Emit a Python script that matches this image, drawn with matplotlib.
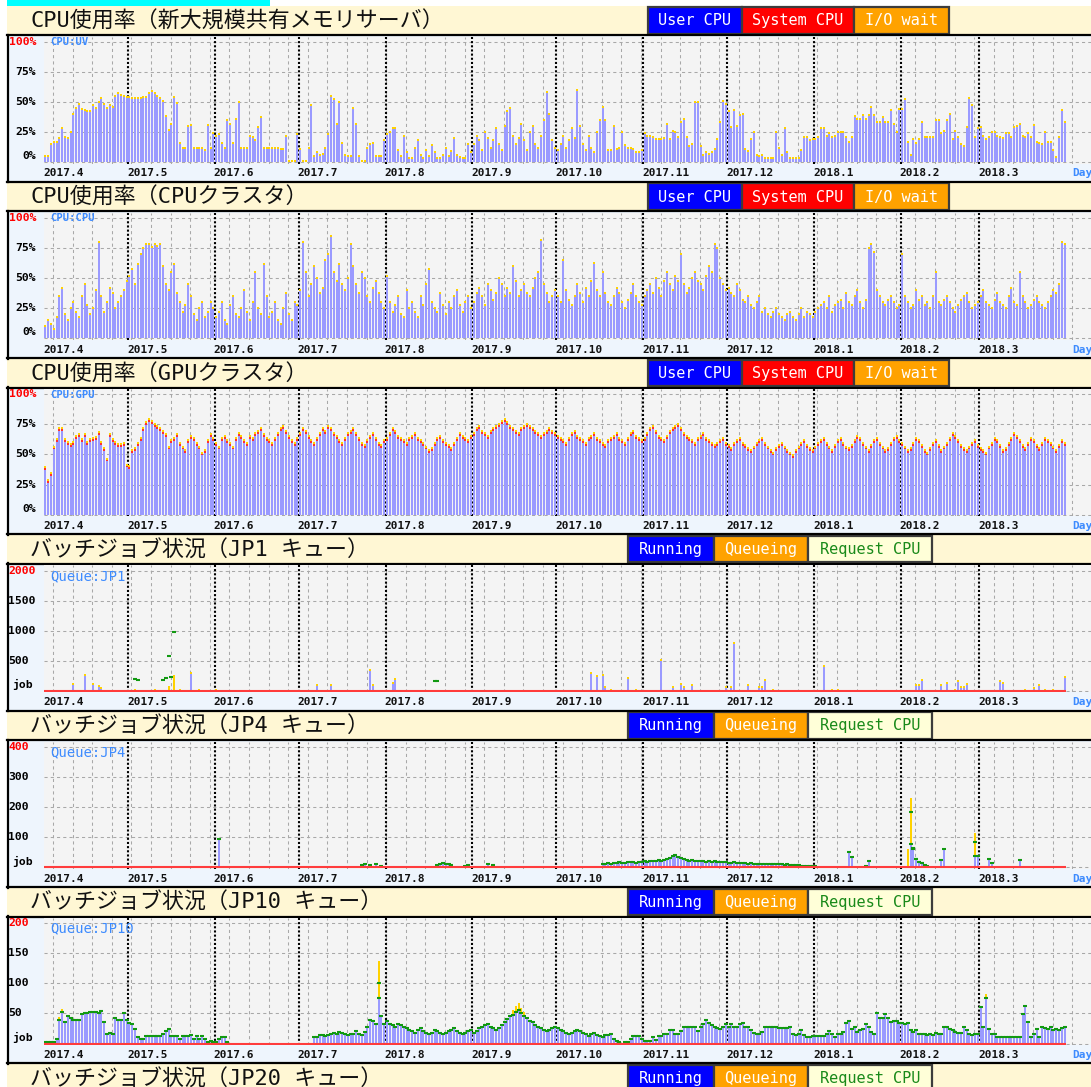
import numpy as np
import matplotlib
matplotlib.use("Agg")
import matplotlib.pyplot as plt
from matplotlib.patches import Rectangle

# ---------------------------------------------------------------- data
month_labels = ["2017.4", "2017.5", "2017.6", "2017.7", "2017.8", "2017.9",
                "2017.10", "2017.11", "2017.12", "2018.1", "2018.2", "2018.3"]
month_days = [30, 31, 30, 31, 31, 30, 31, 30, 31, 31, 28, 31]

# CPU usage, new large shared memory server (% user CPU per day)
uv_user = (
    [5, 5, 15, 17, 17, 20, 28, 21, 20, 25, 40, 45, 48, 44, 43, 42, 42, 47, 45, 50,
     53, 48, 45, 47, 46, 55, 57, 56, 55, 54] +
    [54, 53, 53, 53, 53, 54, 54, 57, 59, 57, 55, 53, 51, 38, 27, 32, 54, 49, 16, 12,
     12, 30, 31, 12, 12, 12, 12, 10, 31, 12, 24] +
    [22, 23, 16, 12, 35, 32, 16, 36, 50, 12, 12, 12, 22, 21, 18, 29, 37, 12, 12, 12,
     12, 12, 12, 11, 11, 22, 1, 1, 1, 23] +
    [11, 1, 1, 12, 47, 5, 8, 6, 7, 12, 23, 55, 52, 32, 50, 16, 6, 5, 5, 45,
     32, 5, 1, 1, 12, 15, 16, 5, 5, 5, 18] +
    [23, 25, 28, 28, 10, 5, 22, 8, 3, 3, 12, 18, 6, 3, 10, 5, 14, 8, 3, 3,
     6, 12, 5, 9, 20, 6, 4, 3, 3, 15, 8] +
    [15, 22, 18, 10, 25, 20, 12, 18, 28, 15, 10, 30, 42, 45, 22, 15, 20, 32, 18, 10,
     25, 30, 15, 12, 22, 35, 58, 40, 18, 12] +
    [10, 15, 22, 12, 18, 28, 20, 60, 30, 15, 10, 22, 12, 8, 25, 35,
     46, 35, 10, 10, 30, 11, 12, 25, 14, 12, 12, 11, 8, 8, 10] +
    [24, 22, 22, 21, 19, 19, 19, 20, 32, 19, 26, 25, 21, 33, 36, 21, 13, 15, 50, 50,
     13, 6, 8, 7, 8, 11, 19, 33, 51, 48] +
    [42, 29, 43, 30, 39, 40, 11, 9, 19, 25, 6, 5, 6, 3, 3, 3, 3, 25, 12, 6,
     28, 8, 3, 3, 3, 3, 10, 21, 21, 18, 19] +
    [19, 21, 28, 28, 22, 24, 21, 22, 25, 25, 25, 21, 17, 21, 38, 36, 36, 39, 36, 39,
     46, 39, 33, 33, 37, 33, 33, 43, 32, 25, 44] +
    [44, 52, 17, 6, 19, 16, 19, 33, 21, 21, 21, 21, 35, 35, 24, 26, 35, 40, 19, 26,
     21, 15, 13, 29, 53, 47, 21, 28] +
    [29, 22, 19, 21, 25, 25, 22, 21, 20, 24, 24, 21, 29, 30, 32, 22, 21, 24, 21, 31,
     17, 16, 15, 25, 17, 17, 10, 4, 21, 43, 33]
)

# CPU usage, CPU cluster
cpu_user = (
    [10, 15, 12, 8, 18, 35, 42, 20, 15, 25, 30, 22, 18, 35, 45, 28, 20, 25, 40, 80,
     35, 22, 30, 42, 38, 25, 30, 35, 40, 48] +
    [52, 58, 45, 62, 70, 75, 78, 78, 76, 78, 77, 78, 60, 45, 40, 55, 62, 38, 30, 22,
     28, 45, 35, 20, 15, 25, 30, 18, 22, 30, 25] +
    [18, 22, 30, 15, 12, 28, 35, 20, 18, 25, 40, 22, 15, 30, 55, 25, 20, 62, 35, 18,
     22, 30, 15, 12, 25, 38, 20, 15, 30, 28] +
    [40, 80, 55, 35, 45, 60, 50, 38, 42, 65, 70, 85, 55, 48, 62, 45, 40, 50, 78, 60,
     45, 38, 55, 50, 35, 30, 42, 48, 38, 30, 25] +
    [52, 30, 22, 28, 35, 20, 18, 40, 25, 30, 22, 18, 35, 28, 45, 58, 30, 25, 22, 38,
     28, 20, 30, 25, 35, 40, 28, 22, 30, 35, 25] +
    [30, 38, 42, 35, 28, 45, 40, 32, 38, 50, 45, 35, 42, 38, 60, 48, 35, 40, 45, 38,
     35, 42, 50, 55, 82, 45, 38, 30, 35, 40] +
    [35, 30, 65, 40, 32, 28, 35, 45, 38, 30, 42, 35, 48, 63, 40, 35, 55, 38, 30, 28,
     35, 42, 38, 30, 25, 32, 38, 45, 35, 30, 28] +
    [35, 40, 45, 38, 50, 42, 35, 48, 55, 45, 40, 52, 48, 70, 45, 38, 42, 50, 55, 48,
     45, 40, 52, 60, 55, 78, 75, 50, 45, 40] +
    [42, 38, 35, 45, 40, 32, 30, 35, 28, 25, 30, 35, 22, 25, 20, 18, 22, 25, 20, 18,
     15, 20, 22, 18, 15, 20, 25, 18, 22, 20, 18] +
    [22, 25, 28, 30, 25, 35, 22, 28, 30, 32, 25, 38, 30, 28, 35, 40, 30, 25, 32, 75,
     78, 72, 40, 35, 30, 28, 32, 35, 30, 25, 28] +
    [70, 35, 30, 25, 28, 40, 32, 35, 28, 30, 25, 35, 55, 30, 28, 32, 35, 30, 25, 22,
     28, 32, 35, 38, 30, 25, 28, 30] +
    [35, 40, 30, 28, 25, 32, 38, 30, 28, 25, 35, 42, 30, 28, 55, 35, 30, 25, 28, 32,
     35, 30, 28, 25, 30, 35, 40, 38, 45, 80, 78]
)

# CPU usage, GPU cluster
gpu_user = (
    [38, 27, 33, 55, 61, 70, 70, 61, 59, 57, 59, 64, 65, 61, 65, 59, 61, 62, 63, 67,
     59, 54, 45, 65, 61, 59, 57, 57, 58, 40] +
    [39, 52, 54, 58, 62, 70, 75, 78, 76, 74, 72, 70, 68, 65, 55, 60, 62, 65, 58, 55,
     52, 60, 64, 62, 58, 55, 50, 52, 60, 65, 62] +
    [58, 55, 62, 64, 60, 58, 55, 62, 66, 64, 60, 58, 64, 62, 66, 68, 70, 65, 62, 60,
     58, 62, 66, 70, 72, 68, 64, 60, 58, 62] +
    [66, 70, 68, 64, 60, 58, 62, 66, 70, 68, 72, 70, 66, 64, 60, 58, 62, 66, 68, 70,
     66, 62, 58, 56, 60, 64, 66, 62, 58, 56, 60] +
    [62, 66, 70, 68, 64, 62, 60, 58, 62, 64, 66, 62, 60, 58, 55, 52, 54, 58, 62, 64,
     60, 58, 56, 54, 58, 62, 66, 64, 62, 60, 64] +
    [66, 70, 72, 68, 66, 64, 68, 70, 72, 74, 76, 78, 75, 72, 70, 68, 66, 70, 72, 74,
     72, 70, 68, 66, 64, 66, 68, 70, 68, 66] +
    [64, 62, 60, 58, 62, 66, 68, 64, 62, 60, 58, 62, 64, 66, 62, 60, 58, 56, 60, 62,
     64, 66, 62, 60, 58, 62, 66, 68, 64, 62, 60] +
    [62, 66, 70, 72, 68, 64, 62, 60, 64, 68, 70, 72, 74, 70, 66, 64, 62, 60, 58, 62,
     64, 66, 62, 60, 58, 56, 58, 60, 62, 58] +
    [56, 54, 58, 60, 62, 58, 56, 54, 52, 55, 58, 60, 62, 58, 55, 52, 50, 54, 56, 58,
     55, 52, 50, 48, 52, 55, 58, 60, 56, 54, 52] +
    [55, 58, 60, 62, 58, 55, 52, 56, 60, 62, 58, 55, 54, 56, 60, 64, 62, 58, 55, 52,
     56, 60, 62, 58, 55, 52, 54, 58, 62, 64, 60] +
    [58, 55, 52, 54, 58, 62, 60, 56, 52, 50, 54, 58, 60, 56, 52, 55, 58, 62, 66, 64,
     60, 56, 54, 52, 55, 58, 60, 56] +
    [54, 52, 50, 55, 58, 62, 60, 56, 52, 54, 58, 62, 66, 64, 60, 56, 54, 58, 62, 60,
     56, 54, 58, 62, 60, 58, 55, 52, 56, 60, 58]
)

# JP1 queue (jobs): sparse days
jp1_run_days = [10, 14, 17, 19, 20, 52, 61, 97, 102, 116, 117, 124, 125, 195, 197,
                199, 200, 208, 220, 224, 227, 228, 231, 243, 245, 246, 251, 255, 256, 257,
                278, 311, 312, 313, 320, 322, 326, 327, 328, 329, 341, 342, 353, 355, 364]
jp1_run_vals = [111, 261, 111, 83, 40, 290, 20, 94, 94, 344, 100, 133, 205, 300, 250,
                267, 72, 211, 511, 72, 111, 72, 100, 72, 72, 789, 100, 72, 72, 189,
                417, 94, 94, 183, 100, 133, 167, 72, 60, 122, 167, 139, 40, 100, 233]
jp1_queue_days = [32, 39, 44, 46, 48, 55, 202, 211, 260, 281, 283, 325, 350, 357, 360]
jp1_queue_vals = [10, 10, 70, 250, 15, 10, 15, 10, 10, 10, 10, 10, 10, 10, 10]
jp1_req_days = [32, 33, 42, 43, 44, 45, 46, 139, 140]
jp1_req_vals = [194, 180, 180, 210, 583, 233, 983, 170, 160]

# JP4 queue
jp4_run_days = [62, 113, 114, 116, 118, 120, 140, 141, 142, 143, 144, 145, 150, 151, 158, 160,
                287, 288, 293, 294, 309, 310, 311, 312, 313, 314, 315, 320, 321, 332, 333,
                337, 338, 348]
jp4_run_vals = [94, 8, 10, 6, 10, 5, 8, 12, 15, 12, 10, 8, 5, 8, 10, 6,
                51, 34, 5, 20, 76, 65, 26, 17, 13, 8, 5, 24, 62, 37, 37,
                26, 15, 24]
jp4_hump_start = 199
jp4_hump = [10, 12, 14, 12, 15, 14, 16, 15, 14, 16, 18, 16, 15, 17, 18, 20, 18, 20, 22, 20,
            24, 22, 25, 28, 30, 38, 42, 35, 30, 28, 25, 22, 24, 22, 20, 22, 20, 18, 20, 18,
            20, 18, 16, 18, 16, 15, 14, 16, 15, 14, 13, 14, 12, 13, 12, 10, 12, 10, 11, 10,
            12, 10, 9, 10, 9, 8, 9, 8, 7, 8, 6, 5, 5, 4, 4, 4, 3]
jp4_queue_days = [308, 309, 332]
jp4_queue_vals = [56, 152, 73]
jp4_req_days = [309, 310, 311, 312, 313, 332]
jp4_req_vals = [185, 62, 26, 17, 13, 85]

# JP10 queue (running jobs per day)
jp10_running = (
    [3, 3, 3, 3, 7, 39, 52, 35, 45, 43, 39, 39, 39, 49, 50, 50, 53, 52, 53, 50,
     54, 35, 16, 17, 16, 43, 39, 39, 50, 39] +
    [34, 33, 24, 11, 7, 7, 12, 12, 12, 12, 12, 12, 15, 21, 24, 12, 12, 12, 7, 12,
     12, 12, 14, 7, 12, 7, 12, 7, 3, 4, 3] +
    [3, 7, 10, 10, 3, 0, 0, 0, 0, 0, 0, 0, 0, 0, 0, 0, 0, 0, 0, 0,
     0, 0, 0, 0, 0, 0, 0, 0, 0, 0] +
    [0, 0, 0, 0, 0, 10, 10, 14, 14, 12, 14, 15, 17, 15, 19, 17, 15, 14, 15, 16,
     21, 15, 14, 19, 27, 39, 38, 33, 76, 46, 33] +
    [38, 33, 30, 28, 33, 30, 28, 25, 22, 20, 18, 22, 25, 20, 18, 15, 18, 22, 20, 17,
     15, 18, 20, 22, 25, 20, 18, 15, 17, 20, 22] +
    [18, 20, 25, 28, 30, 32, 28, 25, 22, 25, 30, 35, 40, 45, 48, 52, 55, 50, 45, 42,
     38, 35, 30, 28, 25, 22, 20, 22, 25, 28] +
    [25, 22, 20, 18, 15, 18, 20, 22, 20, 18, 15, 12, 15, 18, 14, 12,
     11, 14, 14, 15, 8, 4, 2, 0, 3, 3, 7, 12, 12, 12, 7] +
    [4, 4, 4, 11, 5, 12, 12, 15, 15, 23, 23, 15, 15, 21, 28, 27, 27, 27, 27, 21,
     28, 32, 39, 34, 30, 27, 26, 24, 27, 32] +
    [27, 32, 27, 28, 32, 34, 27, 27, 23, 17, 15, 16, 19, 27, 28, 28, 28, 27, 25, 26,
     26, 25, 27, 15, 14, 16, 22, 14, 11, 11, 12] +
    [12, 12, 12, 12, 15, 21, 16, 11, 15, 15, 19, 34, 38, 24, 27, 19, 23, 24, 32, 27,
     19, 15, 50, 42, 43, 49, 43, 35, 37, 37, 34] +
    [34, 32, 34, 22, 19, 22, 15, 15, 15, 14, 15, 14, 17, 15, 15, 27, 27, 24, 23, 19,
     17, 17, 27, 23, 15, 14, 15, 15] +
    [61, 27, 76, 24, 15, 15, 11, 10, 10, 10, 10, 10, 10, 11, 10, 49, 62, 35, 11, 15,
     24, 11, 27, 26, 24, 27, 23, 24, 23, 26, 28]
)
jp10_queue_days = [5, 6, 119, 167, 168, 169, 170, 171, 336]
jp10_queue_vals = [3, 3, 60, 6, 8, 10, 8, 5, 4]
jp10_req_days = [119]
jp10_req_vals = [100]

# ---------------------------------------------------------------- layout
N = 365
assert len(uv_user) == N and len(cpu_user) == N and len(gpu_user) == N and len(jp10_running) == N
assert len(jp4_hump) == 77

W, H = 1091, 1087
PX_DAY = 2.8
X0 = 44
XMAX = (W - X0) / PX_DAY
HDR_H = 28.5
BOX_H = 147.8
PANEL_STEP = 176.3

MONO = "DejaVu Sans Mono"
TITLE_FONT = ["DejaVu Sans Mono", "Noto Sans CJK JP"]
C_HDR = "#fff7d4"
C_BOX = "#eef5fd"
C_PLOT = "#f4f4f4"
C_BAR = "#9a9aff"
C_CAP = "#ffd200"
C_SYS = "#ff3030"
C_REQ = "#119911"
C_TAG = "#3d8bff"

fig = plt.figure(figsize=(W / 100, H / 100), dpi=100)
bg = fig.add_axes([0, 0, 1, 1])
bg.set_xlim(0, W)
bg.set_ylim(H, 0)
bg.axis("off")

# top cyan strip
bg.add_patch(Rectangle((7, 0), 263, 5.5, fc="#00ffff", ec="none"))

days = np.arange(N)
xc = days + 0.5
month_starts = np.concatenate([[0], np.cumsum(month_days)[:-1]])


def sparse(d, v):
    a = np.zeros(N)
    a[np.array(d, dtype=int)] = v
    return a


def header(i, title, kind):
    ht = 6 + PANEL_STEP * i
    bg.add_patch(Rectangle((7, ht), W - 7, HDR_H, fc=C_HDR, ec="none"))
    bg.text(30, ht + HDR_H / 2 + 1, title, family=TITLE_FONT, fontsize=15.8,
            ha="left", va="center", color="#111111")
    if kind == "cpu":
        items = [("User CPU", "#0000ff", "white"), ("System CPU", "#ff0000", "white"),
                 ("I/O wait", "#ffa200", "white")]
        x, widths = 648, [94, 112, 95]
    else:
        items = [("Running", "#0000ff", "white"), ("Queueing", "#ffa200", "white"),
                 ("Request CPU", "#ffffd8", "#1a8a1a")]
        x, widths = 628, [86, 94, 124]
    for (lab, fc, tc), w in zip(items, widths):
        bg.add_patch(Rectangle((x, ht + 1), w, HDR_H - 2, fc=fc, ec="#3c3c3c", lw=1.6))
        bg.text(x + w / 2, ht + HDR_H / 2 + 0.5, lab, family=MONO, fontsize=11,
                color=tc, ha="center", va="center")
        x += w
    return ht


def panel(i, title, kind, tag, ymax, ylabels, draw):
    ht = header(i, title, kind)
    B = ht + HDR_H
    # box
    bg.add_patch(Rectangle((7, B), W - 7, BOX_H, fc=C_BOX, ec="none"))
    bg.plot([7, W], [B + 0.5, B + 0.5], color="black", lw=1.6)
    bg.plot([7, W], [B + BOX_H - 0.5, B + BOX_H - 0.5], color="black", lw=1.6)
    bg.plot([8, 8], [B, B + BOX_H], color="black", lw=1.6)

    ppu = 120.3 / ymax
    top_px, bot_px = B + 2, B + 129
    ax = fig.add_axes([X0 / W, 1 - bot_px / H, (W - X0) / W, (bot_px - top_px) / H])
    ax.set_facecolor(C_PLOT)
    ax.set_xlim(0, XMAX)
    ax.set_ylim(-1.5 / ppu, ymax + 5.2 / ppu)
    for s in ax.spines.values():
        s.set_visible(False)
    ax.set_xticks([])
    ax.set_yticks([])

    grid = dict(color="#a8a8a8", lw=0.75, ls=(0, (3, 3)), zorder=1)
    for k in range(1, 5):
        ax.axhline(ymax * k / 4, **grid)
    if kind == "cpu":
        ax.axhline(0, **grid)
    else:
        ax.plot([N, XMAX], [0, 0], **grid)
    for d in np.arange(3.2, XMAX, 7):
        ax.axvline(d, **grid)
    for d in month_starts[1:]:
        ax.axvline(d, color="black", lw=1.5, ls=(0, (1, 1)), zorder=2)

    draw(ax)

    if kind != "cpu":
        ax.plot([0, N], [0, 0], color="#ff3c3c", lw=1.5, zorder=6, solid_capstyle="butt")

    # y labels
    yt = ax.get_yaxis_transform()
    vals = [ymax * k / 4 for k in range(5)]
    for k, (v, lab) in enumerate(zip(vals, ylabels)):
        col = "#ff0000" if k == 4 else "black"
        dy = 6 if k == 0 else 0
        if kind == "cpu":
            ax.annotate(lab, xy=(0, v), xycoords=yt, xytext=(-8, dy), textcoords="offset pixels",
                        ha="right", va="center", family=MONO, weight="bold", fontsize=8.2,
                        color=col, annotation_clip=False)
        else:
            xoff = -32 if k == 0 else -36
            ax.annotate(lab, xy=(0, v), xycoords=yt, xytext=(xoff, dy), textcoords="offset pixels",
                        ha="left", va="center", family=MONO, weight="bold", fontsize=8.2,
                        color=col, annotation_clip=False)
    # tag
    if kind == "cpu":
        ax.annotate(tag, xy=(0, 1), xycoords="axes fraction", xytext=(6, -5.5),
                    textcoords="offset pixels", ha="left", va="center", family=MONO,
                    weight="bold", fontsize=7.6, color=C_TAG)
    else:
        ax.annotate(tag, xy=(0, 1), xycoords="axes fraction", xytext=(6, -10.5),
                    textcoords="offset pixels", ha="left", va="center", family=MONO,
                    fontsize=10, color=C_TAG)
    # x labels
    xt = ax.get_xaxis_transform()
    for d, lab in zip(month_starts, month_labels):
        ax.annotate(lab, xy=(d, 0), xycoords=xt, xytext=(-1, -10), textcoords="offset pixels",
                    ha="left", va="center", family=MONO, weight="bold", fontsize=8,
                    color="#111111", annotation_clip=False)
    ax.annotate("Day", xy=((1072 - X0) / PX_DAY, 0), xycoords=xt, xytext=(0, -10),
                textcoords="offset pixels", ha="left", va="center", family=MONO,
                weight="bold", fontsize=8, color=C_TAG, annotation_clip=False)
    return ax


def draw_cpu(user, with_sys=False):
    def f(ax):
        u = np.array(user, dtype=float)
        ax.bar(xc, u, width=0.72, color=C_BAR, lw=0, zorder=3)
        if with_sys:
            ax.plot(xc, u, ls="none", marker="s", ms=1.7, mew=0, color=C_SYS, zorder=4)
            ax.plot(xc, u + 1.6, ls="none", marker="s", ms=1.5, mew=0, color=C_CAP, zorder=4)
        else:
            ax.plot(xc, u, ls="none", marker="s", ms=1.7, mew=0, color=C_CAP, zorder=4)
    return f


def draw_job(run, queue, req, req_on_top):
    def f(ax):
        r = np.asarray(run, dtype=float)
        q = np.asarray(queue, dtype=float)
        ax.bar(xc, r, width=0.72, color=C_BAR, lw=0, zorder=3)
        ax.bar(xc, q, bottom=r, width=0.72, color=C_CAP, lw=0, zorder=3)
        tot = r + q
        m = tot > 0
        ax.plot(xc[m], tot[m], ls="none", marker="s", ms=1.6, mew=0, color=C_CAP, zorder=4)
        if req_on_top:
            mr = r > 0
            ax.plot(xc[mr], r[mr], ls="none", marker="_", ms=3.2, mew=1.5, color=C_REQ, zorder=5)
        rq = np.asarray(req, dtype=float)
        mq = rq > 0
        ax.plot(xc[mq], rq[mq], ls="none", marker="_", ms=3.2, mew=1.5, color=C_REQ, zorder=5)
    return f


cpu_labels = ["0%", "25%", "50%", "75%", "100%"]

panel(0, "CPU使用率（新大規模共有メモリサーバ）", "cpu", "CPU:UV", 100, cpu_labels,
      draw_cpu(uv_user))
panel(1, "CPU使用率（CPUクラスタ）", "cpu", "CPU:CPU", 100, cpu_labels,
      draw_cpu(cpu_user))
panel(2, "CPU使用率（GPUクラスタ）", "cpu", "CPU:GPU", 100, cpu_labels,
      draw_cpu(gpu_user, with_sys=True))

jp1_run = sparse(jp1_run_days, jp1_run_vals)
panel(3, "バッチジョブ状況（JP1 キュー）", "job", "Queue:JP1", 2000,
      ["job", "500", "1000", "1500", "2000"],
      draw_job(jp1_run, sparse(jp1_queue_days, jp1_queue_vals),
               sparse(jp1_req_days, jp1_req_vals), False))

jp4_run = sparse(jp4_run_days, jp4_run_vals)
jp4_run[jp4_hump_start:jp4_hump_start + len(jp4_hump)] = jp4_hump
panel(4, "バッチジョブ状況（JP4 キュー）", "job", "Queue:JP4", 400,
      ["job", "100", "200", "300", "400"],
      draw_job(jp4_run, sparse(jp4_queue_days, jp4_queue_vals),
               sparse(jp4_req_days, jp4_req_vals), True))

panel(5, "バッチジョブ状況（JP10 キュー）", "job", "Queue:JP10", 200,
      ["job", "50", "100", "150", "200"],
      draw_job(jp10_running, sparse(jp10_queue_days, jp10_queue_vals),
               sparse(jp10_req_days, jp10_req_vals), True))

# partial header of the next panel
header(6, "バッチジョブ状況（JP20 キュー）", "job")

fig.savefig("out.png", dpi=100, facecolor="white")
